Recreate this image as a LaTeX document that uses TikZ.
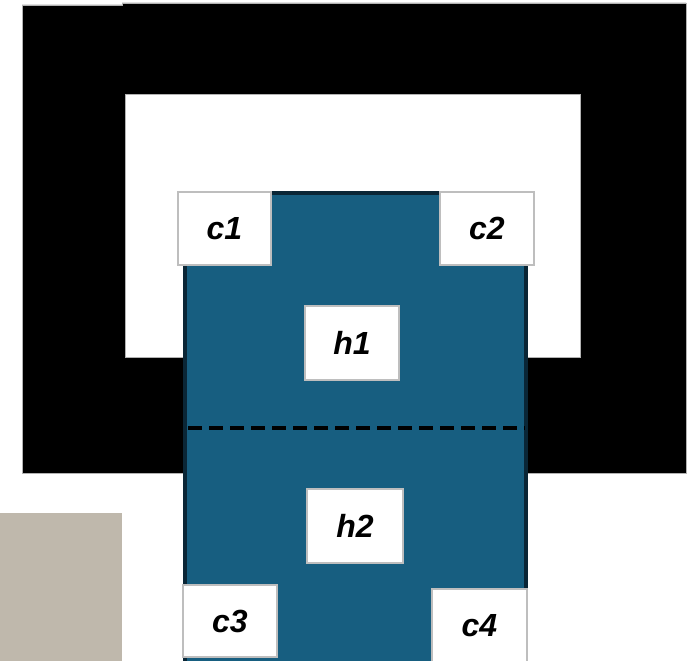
\documentclass[tikz,border=0pt]{standalone}
\usepackage{fontspec}
\setsansfont{Liberation Sans}
\usetikzlibrary{positioning, calc}
\definecolor{hallblue}{RGB}{23,94,128}
\definecolor{halledge}{RGB}{10,38,54}
\definecolor{floorbeige}{RGB}{191,184,172}
\definecolor{tagedge}{RGB}{190,190,190}
\tikzset{
    wall/.style={fill=black, draw=gray!60, line width=0.8pt, even odd rule},
    hall/.style={fill=hallblue, draw=halledge, line width=3.5pt},
    tag/.style={draw=tagedge, fill=white, line width=2pt, inner sep=0pt,
      font=\sffamily\bfseries\itshape\fontsize{32}{32}\selectfont},
    split/.style={line width=3.5pt, dash pattern=on 14pt off 7pt},
}

\begin{document}
\begin{tikzpicture}[x=1pt, y=-1pt]
    \useasboundingbox (0,0) rectangle (689,661);

    % outer frame with its opening
    \path[wall] (22,5) -- (122,5) -- (122,3) -- (686,3) -- (686,473) -- (22,473) -- cycle
      (125,94) rectangle (580,357);

    \fill[floorbeige] (0,513) rectangle (122,661);

    \draw[hall] (185,193) rectangle (526,663);
    \coordinate (sl) at (188,428);
    \coordinate (sr) at (525,428);
    \draw[split] (sl) -- (sr);

    \node[tag, minimum width=93pt, minimum height=73pt] (c1) at (224.5,228.5) {c1};
    \node[tag, minimum width=94pt, minimum height=73pt] (c2) at (487,228.5) {c2};
    \node[tag, minimum width=94pt, minimum height=74pt] (h1) at (352,343) {h1};
    \node[tag, minimum width=96pt, minimum height=74pt] (h2) at (355,526) {h2};
    \node[tag, minimum width=94pt, minimum height=72pt] (c3) at (230,621) {c3};
    \node[tag, minimum width=95pt, minimum height=74pt] (c4) at (479.5,626) {c4};
\end{tikzpicture}
\end{document}
